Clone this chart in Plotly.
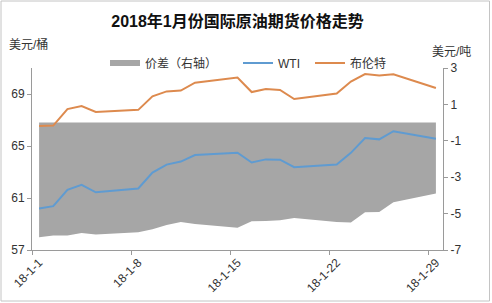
import plotly.graph_objects as go

# ---- data ----
dates = ["2018-01-01", "2018-01-02", "2018-01-03", "2018-01-04", "2018-01-05",
         "2018-01-08", "2018-01-09", "2018-01-10", "2018-01-11", "2018-01-12",
         "2018-01-15", "2018-01-16", "2018-01-17", "2018-01-18", "2018-01-19",
         "2018-01-22", "2018-01-23", "2018-01-24", "2018-01-25", "2018-01-26",
         "2018-01-29"]
wti = [60.2, 60.37, 61.63, 62.01, 61.44,
       61.73, 62.96, 63.57, 63.80, 64.30,
       64.48, 63.73, 63.97, 63.95, 63.37,
       63.57, 64.47, 65.61, 65.51, 66.14,
       65.56]
brent = [66.54, 66.57, 67.84, 68.07, 67.62,
         67.78, 68.82, 69.20, 69.26, 69.87,
         70.26, 69.15, 69.38, 69.31, 68.61,
         69.03, 69.96, 70.53, 70.42, 70.52,
         69.46]
spread = [-6.30, -6.20, -6.20, -6.06, -6.15,
          -6.03, -5.86, -5.63, -5.46, -5.57,
          -5.78, -5.42, -5.41, -5.36, -5.24,
          -5.46, -5.49, -4.92, -4.91, -4.38,
          -3.90]

x_tickvals = ["2018-01-01", "2018-01-08", "2018-01-15", "2018-01-22", "2018-01-29"]
x_ticktext = ["18-1-1", "18-1-8", "18-1-15", "18-1-22", "18-1-29"]
x_boundaries = ["2017-12-31 12:00", "2018-01-07 12:00", "2018-01-14 12:00",
                "2018-01-21 12:00", "2018-01-28 12:00"]
left_ticks = [57, 61, 65, 69]
right_ticks = [-7, -5, -3, -1, 1, 3]
right_ticktext = ["-7", "-5", "-3", "-1", "1", "3"]

FONT = "Liberation Sans, Noto Sans CJK SC, sans-serif"
AX = "#9a9a9a"
TXT = "#333333"

fig = go.Figure()
fig.add_trace(go.Scatter(
    x=dates, y=spread, name="价差（右轴）", mode="none",
    fill="tozeroy", fillcolor="#a6a6a6", yaxis="y", legend="legend"))
fig.add_trace(go.Scatter(
    x=dates, y=wti, name="WTI", mode="lines",
    line=dict(color="#5f9bd1", width=2), yaxis="y2", legend="legend2"))
fig.add_trace(go.Scatter(
    x=dates, y=brent, name="布伦特", mode="lines",
    line=dict(color="#dd8a4e", width=2), yaxis="y2", legend="legend3"))

W, H = 492, 303
L, R, T, B = 32, 49, 68, 53
pw, ph = W - L - R, H - T - B

def px(xp):
    return (xp - L) / pw

def py(yp):
    return (H - B - yp) / ph

leg_common = dict(orientation="h", yanchor="middle", xanchor="left",
                  font=dict(size=12, color=TXT, family=FONT),
                  bgcolor="rgba(0,0,0,0)", borderwidth=0)

fig.update_layout(
    width=W, height=H,
    margin=dict(l=L, r=R, t=T, b=B),
    paper_bgcolor="white", plot_bgcolor="white",
    font=dict(family=FONT, size=12, color=TXT),
    title=dict(text="<b>2018年1月份国际原油期货价格走势</b>",
               x=0.5, xref="paper", xanchor="center",
               y=1 - 21 / H, yanchor="middle",
               font=dict(size=16, color="#111111", family=FONT)),
    showlegend=True,
    legend=dict(x=px(105), y=py(63), **leg_common),
    legend2=dict(x=px(238), y=py(63), **leg_common),
    legend3=dict(x=px(310), y=py(63), **leg_common),
    xaxis=dict(
        type="date",
        range=["2017-12-31 12:00", "2018-01-29 12:00"],
        tickmode="array", tickvals=x_tickvals, ticktext=x_ticktext,
        ticks="", tickangle=-45, automargin=False,
        tickfont=dict(size=12, color=TXT),
        minor=dict(tickmode="array", tickvals=x_boundaries,
                   ticks="outside", ticklen=4, tickcolor=AX, showgrid=False),
        showline=True, linecolor=AX, linewidth=1,
        showgrid=False, zeroline=False,
    ),
    yaxis=dict(
        side="right", range=[-7, 3], automargin=False,
        tickmode="array", tickvals=right_ticks, ticktext=right_ticktext,
        ticks="outside", ticklen=4, tickcolor=AX,
        tickfont=dict(size=12, color=TXT),
        showline=True, linecolor=AX, linewidth=1,
        showgrid=False, zeroline=False,
    ),
    yaxis2=dict(
        side="left", overlaying="y", range=[57, 71], automargin=False,
        tickmode="array", tickvals=left_ticks,
        ticks="outside", ticklen=4, tickcolor=AX,
        tickfont=dict(size=12, color=TXT),
        showline=True, linecolor=AX, linewidth=1,
        showgrid=False, zeroline=False,
    ),
    annotations=[
        dict(text="美元/桶", xref="paper", yref="paper",
             x=px(7), y=py(44), xanchor="left", yanchor="middle",
             showarrow=False, font=dict(size=12, color=TXT)),
        dict(text="美元/吨", xref="paper", yref="paper",
             x=px(430), y=py(52), xanchor="left", yanchor="middle",
             showarrow=False, font=dict(size=12, color=TXT)),
    ],
    shapes=[
        dict(type="rect", xref="paper", yref="paper",
             x0=px(1), x1=px(489.5), y0=py(301), y1=py(1),
             line=dict(color="#c4c4c4", width=1), fillcolor="rgba(0,0,0,0)",
             layer="below"),
    ],
)

fig.write_html("out.html")
